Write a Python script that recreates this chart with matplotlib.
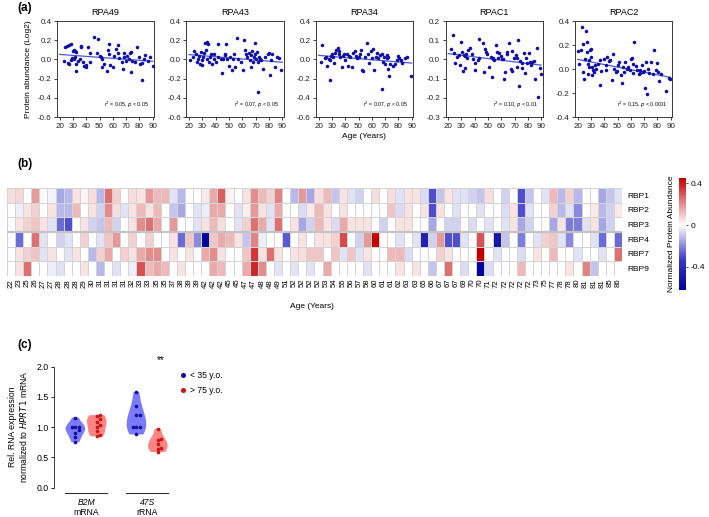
import numpy as np
import matplotlib
matplotlib.use("Agg")
import matplotlib.pyplot as plt
from matplotlib.colors import LinearSegmentedColormap, Normalize
from matplotlib.lines import Line2D
import matplotlib.transforms as mtransforms

plt.rcParams['font.family'] = ['Liberation Sans', 'DejaVu Sans']

# ---------------- Panel (a) data ----------------
panel_names = ["RPA49", "RPA43", "RPA34", "RPAC1", "RPAC2"]
panel_ylims = [(-0.6, 0.4), (-0.6, 0.4), (-0.6, 0.4), (-0.3, 0.2), (-0.4, 0.4)]
panel_ysteps = [0.2, 0.2, 0.2, 0.1, 0.2]
panel_stats = ["0.05, $\\it{p}$ < 0.05", "0.07, $\\it{p}$ < 0.05", "0.07, $\\it{p}$ < 0.05",
               "0.10, $\\it{p}$ < 0.01", "0.15, $\\it{p}$ < 0.0001"]
# regression line values at age 20 and age 90
fit_at20 = [0.052, 0.05, 0.042, 0.03, 0.08]
fit_at90 = [-0.02, -0.03, -0.038, -0.03, -0.07]

rpa49_age = [23.7, 25.7, 27.4, 28.7, 30.6, 29.9, 31.8, 32.3, 36, 36.3, 23.2, 26.4, 27, 28.7, 29.5, 30.5, 31.2,
             32, 32.5, 33.7, 35, 37.5, 39.5, 40, 42.8, 42.8, 46, 49, 48, 50, 51, 51.7, 52.2, 53.5, 55.3, 56.8,
             56.6, 57.3, 57.8, 59.8, 61, 62.4, 63.6, 63.6, 64.8, 66.8, 67.3, 68.3, 68.5, 69.7, 71, 72.2, 72.7,
             73.5, 73.5, 74.8, 76.7, 78.5, 79.7, 80.4, 81.7, 82.1, 83.4, 84.6, 86.6, 88.3, 90, 41.5, 38.2]
rpa49_val = [0.13, 0.14, 0.15, 0.16, 0.10, 0.09, 0.09, 0.08, 0.13, 0.14, -0.02, -0.04, -0.05, -0.01, 0.01, 0.0,
             0.02, -0.05, -0.12, -0.02, 0.0, -0.03, -0.08, -0.06, 0.07, -0.03, 0.23, 0.21, 0.07, 0.04, 0.02, 0.0,
             -0.08, -0.05, -0.12, 0.16, 0.10, 0.06, -0.06, -0.08, 0.04, 0.11, 0.15, 0.07, 0.01, -0.03, -0.10,
             0.07, 0.02, -0.02, 0.04, 0.0, 0.07, 0.08, -0.13, -0.02, -0.03, 0.13, 0.03, -0.05, -0.21, -0.04, 0.0,
             0.05, -0.02, 0.02, -0.07, 0.13, -0.07]

rpa43_age = [21, 23, 24, 25.3, 26, 26.6, 27.3, 28, 28.6, 29.3, 29.8, 30.4, 31.2, 31.7, 32.5, 33.2, 33.8, 34.3,
             35, 35.8, 36.3, 37.1, 38.4, 38.9, 40.2, 41.5, 42, 43.6, 44.7, 45.4, 46.7, 47.2, 48, 48.8, 49.8,
             50.6, 51.9, 53.2, 54.1, 54.6, 56.2, 56.7, 58.7, 60.5, 61.3, 61.8, 63.1, 63.8, 64.8, 65.6, 66.4,
             66.9, 67.4, 67.9, 68.9, 69.4, 69.9, 70.2, 70.7, 71.5, 72, 72.5, 73.3, 74, 75.8, 77.1, 79.1, 80.2,
             80.9, 81.7, 82.7, 84.7, 86, 87.3, 89.3]
rpa43_val = [-0.01, 0.03, 0.09, 0.06, -0.03, 0.007, 0.04, -0.045, 0.076, -0.01, -0.063, 0.03, 0.066, 0.17, 0.1,
             0.18, 0.007, 0.163, -0.028, 0.03, 0.06, -0.052, 0.0, 0.06, -0.028, 0.163, 0.024, 0.0, -0.14, 0.0,
             0.06, 0.042, 0.163, 0.007, -0.073, 0.03, -0.115, 0.0, 0.06, -0.08, 0.225, 0.007, -0.028, -0.108,
             0.205, 0.1, 0.06, 0.03, 0.066, -0.003, -0.08, 0.042, 0.087, -0.028, 0.024, 0.17, 0.06, 0.0, 0.076,
             -0.028, -0.34, 0.03, 0.007, -0.01, -0.097, 0.024, 0.052, 0.066, -0.167, -0.01, 0.06, -0.08, 0.024,
             0.017, -0.115]

rpa34_age = [22.7, 21.5, 25, 25.7, 26.2, 27.5, 28.2, 28.7, 29.2, 30, 30.7, 31.2, 32.5, 33.2, 34.5, 35, 35.5,
             36.2, 37.5, 38.2, 39.2, 40, 41.2, 42, 42.5, 43.7, 45, 46.2, 47.5, 48, 48.7, 50, 51.2, 52, 52.5, 53.7,
             55, 56.2, 57, 58.2, 59.5, 60, 61.2, 62, 63, 64.2, 65, 66.2, 67.5, 68, 68.7, 69.5, 70, 71.2, 71.7,
             72.5, 72.5, 73, 73.7, 76.2, 77.5, 78.7, 80, 80.7, 82, 82.5, 85, 86.2, 89.5]
rpa34_val = [0.15, -0.03, 0.01, 0.03, -0.07, 0.0, -0.01, -0.21, 0.04, 0.06, 0.03, -0.04, 0.07, 0.10, 0.12, 0.06,
             0.09, 0.02, -0.08, 0.04, 0.06, -0.01, 0.06, -0.07, 0.04, 0.02, -0.08, 0.07, 0.09, 0.04, 0.01, 0.03,
             0.06, 0.10, -0.11, -0.12, 0.02, 0.17, 0.06, -0.04, 0.09, 0.01, 0.11, -0.11, 0.03, 0.07, 0.01, 0.05,
             0.06, -0.31, -0.03, 0.02, -0.05, 0.01, 0.05, -0.10, 0.02, -0.17, -0.05, -0.07, -0.05, -0.01, 0.04,
             0.01, -0.01, -0.04, 0.01, 0.02, -0.17]

rpac1_age = [21.8, 23.8, 24.7, 25.5, 26.7, 27.9, 29.2, 29.9, 30.4, 31.1, 31.6, 32.9, 34.1, 35.3, 32.6, 33.8,
             36.3, 38.3, 38.8, 40, 40.5, 43.2, 43.2, 42.5, 46.2, 46.9, 48.1, 48.6, 49.1, 51.1, 52.3, 53, 53.5,
             54, 54.8, 56, 56.7, 57.2, 58.5, 59.7, 60.4, 61.4, 62.2, 62.9, 64.1, 64.6, 65.9, 67.1, 67.8, 68.3,
             69.6, 70.8, 71.5, 72, 72.8, 73.3, 73.7, 75.2, 75.7, 76.9, 77.7, 78.7, 79.4, 80.6, 81.9, 82.6, 83.1,
             84.3, 85.6, 86.8, 87.5, 89.3, 90]
rpac1_val = [0.053, 0.127, 0.032, -0.017, 0.015, 0.023, -0.029, 0.092, 0.04, -0.06, 0.023, -0.046, 0.006, 0.05,
             0.02, 0.03, 0.057, 0.028, 0.0, -0.02, -0.055, 0.005, 0.104, -0.003, 0.083, -0.068, 0.052, 0.04,
             0.028, -0.038, 0.01, -0.094, 0.0, 0.005, -0.003, 0.075, 0.04, 0.005, 0.031, 0.017, 0.0, 0.0,
             -0.104, -0.064, 0.04, 0.028, 0.083, -0.052, -0.059, 0.045, 0.005, 0.023, 0.005, -0.038, 0.1, -0.139,
             -0.007, -0.017, -0.047, 0.035, -0.069, 0.005, -0.021, 0.031, -0.012, -0.03, -0.012, -0.009, -0.104,
             0.057, -0.194, -0.047, -0.076]

rpac2_age = [20, 21.3, 22.5, 23.3, 24.3, 24.3, 25.1, 25.9, 26.4, 26.9, 27.1, 27.6, 28.1, 28.4, 28.9, 29.4, 29.7,
             30.2, 30.7, 31, 31.5, 32.3, 32.7, 34, 35.3, 36.5, 37, 37.8, 39.6, 41.2, 41.7, 42.2, 43.7, 44.2,
             46.2, 46.8, 47.5, 48.8, 49.3, 50.5, 51.3, 52.3, 53.1, 53.8, 54.9, 55.6, 56.9, 58.2, 59.4, 60.2,
             60.7, 61.5, 62, 62.5, 64, 65, 65.8, 66.6, 67.1, 68.3, 69.1, 70.1, 70.9, 71.7, 72.2, 72.7, 73.4,
             75.2, 76.7, 77.8, 79.3, 79.8, 80.4, 81.2, 82.4, 86.3, 88.7, 89.5]
rpac2_val = [0.15, 0.044, 0.16, 0.35, -0.025, 0.21, -0.083, 0.086, 0.32, 0.225, 0.14, 0.044, -0.044, 0.078,
             0.017, 0.155, 0.17, 0.1, 0.017, -0.053, -0.011, -0.025, 0.03, 0.003, 0.044, 0.072, -0.136, -0.017,
             0.086, 0.03, -0.011, 0.1, 0.067, 0.078, -0.089, 0.122, 0.003, -0.025, -0.017, 0.03, 0.058, -0.053,
             -0.117, 0.017, -0.025, 0.058, 0.003, 0.017, -0.011, 0.086, 0.094, -0.033, 0.039, 0.225, 0.022,
             -0.006, -0.044, -0.033, -0.011, 0.03, -0.025, -0.019, -0.156, 0.058, -0.211, 0.003, -0.033, 0.058,
             -0.039, 0.155, -0.011, 0.05, -0.025, -0.103, -0.039, -0.183, -0.072, -0.083]

panel_ages = [rpa49_age, rpa43_age, rpa34_age, rpac1_age, rpac2_age]
panel_vals = [rpa49_val, rpa43_val, rpa34_val, rpac1_val, rpac2_val]

# ---------------- Panel (b) data ----------------
age_labels = [22, 23, 25, 26, 27, 27, 28, 28, 28, 29, 30, 31, 31, 31, 31, 32, 33, 33, 35, 35, 37, 38, 39, 39,
              42, 42, 42, 45, 45, 47, 47, 48, 48, 49, 51, 52, 52, 52, 52, 53, 54, 55, 56, 57, 58, 60, 61, 61,
              62, 63, 63, 65, 66, 67, 67, 67, 69, 70, 70, 71, 72, 72, 72, 72, 72, 73, 75, 77, 78, 78, 80, 81,
              81, 81, 85, 86]
rbp_names = ["RBP1", "RBP2", "RBP3", "RBP4", "RBP7", "RBP9"]
rbp1 = [0.06, 0.07, 0.0, 0.18, 0.01, -0.02, -0.15, -0.12, 0.05, 0.02, 0.06, -0.12, 0.25, 0.08, 0.0, 0.06, 0.05,
        0.18, 0.12, 0.12, -0.05, -0.12, 0.0, 0.0, 0.04, 0.15, 0.28, 0.02, 0.0, 0.05, 0.2, 0.12, 0.08, 0.22, 0.0,
        -0.12, 0.18, -0.15, 0.06, 0.12, -0.1, 0.05,
        -0.05, -0.08, 0.0, 0.06, 0.0, 0.06, -0.05, 0.05, 0.05, -0.06, -0.3, -0.1, 0.05, -0.05, -0.05, -0.08,
        -0.1, 0.06, 0.0, -0.08, 0.0, -0.3, -0.1, 0.0, -0.05, 0.12, -0.12, 0.08, -0.12, 0.0, 0.0, -0.15, -0.1,
        -0.05]
rbp2 = [0.0, -0.03, 0.05, 0.08, 0.0, 0.05, -0.12, -0.12, 0.12, 0.0, 0.05, -0.08, 0.2, 0.06, -0.05, 0.05, 0.12,
        0.05, 0.12, 0.0, -0.1, -0.15, 0.0, -0.05, -0.03, 0.15, 0.15, 0.0, -0.05, 0.03, 0.18, 0.05, -0.05, 0.15,
        0.0, 0.0, -0.06, 0.04, 0.12, 0.05, 0.0, 0.05,
        0.0, 0.0, 0.0, 0.0, 0.0, 0.1, -0.06, 0.05, 0.0, 0.05, -0.3, 0.05, 0.0, -0.05, 0.0, 0.0, -0.05, 0.0, 0.0,
        -0.06, 0.05, -0.3, -0.05, 0.0, 0.0, 0.08, -0.12, -0.05, -0.2, 0.0, 0.04, -0.12, -0.08, 0.04]
rbp3 = [0.0, 0.05, 0.08, 0.1, 0.05, -0.05, -0.25, -0.3, 0.0, 0.05, -0.08, -0.1, 0.12, -0.08, 0.0, 0.05, 0.2,
        0.25, 0.15, 0.0, 0.18, 0.0, 0.0, -0.05, 0.05, 0.12, 0.06, 0.0, -0.05, 0.08, 0.25, 0.15, -0.05, 0.25,
        0.0, 0.05, -0.15, -0.08, 0.12, 0.05, -0.06, 0.15,
        0.05, 0.05, 0.05, 0.0, -0.08, 0.0, 0.05, 0.05, 0.0, 0.0, -0.15, 0.0, -0.08, -0.08, 0.0, -0.06, 0.0,
        -0.05, 0.0, -0.05, 0.05, -0.15, -0.08, 0.0, 0.0, -0.15, 0.05, -0.22, -0.22, -0.05, 0.05, -0.15, -0.08,
        0.0]
rbp4 = [0.0, -0.25, 0.0, 0.25, -0.05, 0.0, -0.08, -0.05, 0.0, 0.08, 0.0, -0.05, 0.1, 0.18, 0.0, 0.08, 0.0,
        0.08, 0.0, 0.0, 0.05, -0.25, 0.1, -0.2, -0.6, 0.1, 0.15, 0.12, 0.05, -0.1, 0.22, -0.03, 0.0, 0.0,
        -0.28, 0.0, 0.05, 0.0, 0.05, 0.05, 0.08, 0.32,
        0.0, -0.08, 0.18, 0.45, 0.0, 0.0, -0.05, 0.0, -0.05, -0.45, -0.08, 0.18, -0.3, -0.3, -0.05, 0.0, 0.3,
        0.0, -0.5, -0.1, 0.0, -0.22, 0.0, -0.05, 0.08, 0.1, -0.05, -0.2, 0.0, 0.0, -0.05, -0.25, 0.0, -0.25]
rbp7 = [0.0, 0.05, 0.08, 0.1, -0.05, 0.05, 0.0, -0.05, 0.05, 0.0, -0.12, 0.08, 0.15, 0.0, 0.08, 0.05, 0.15,
        0.2, 0.2, 0.0, 0.05, 0.0, 0.05, 0.0, 0.15, 0.2, 0.05, 0.0, 0.0, 0.1, 0.35, 0.05, 0.25, 0.05, 0.0, 0.05,
        0.06, 0.1, 0.1, 0.0, 0.1, -0.05,
        0.1, -0.05, 0.05, 0.0, 0.0, 0.12, 0.12, -0.06, 0.0, 0.0, 0.0, 0.08, 0.05, 0.0, 0.0, 0.0, 0.48, 0.0,
        -0.05, 0.0, 0.0, -0.06, 0.0, 0.05, 0.0, 0.12, 0.0, 0.0, -0.05, 0.0, 0.0, -0.05, 0.0, 0.25]
rbp9 = [0.0, 0.05, 0.25, 0.0, 0.0, -0.03, -0.05, 0.0, 0.0, 0.05, 0.0, -0.12, 0.0, -0.05, 0.0, -0.03, 0.3, 0.12,
        0.15, 0.12, 0.0, 0.05, 0.0, 0.0, 0.0, 0.15, 0.12, 0.0, 0.0, 0.15, 0.38, 0.2, 0.0, -0.05, 0.0, -0.05,
        0.0, -0.05, 0.0, 0.15, 0.0, 0.0,
        0.0, 0.0, -0.05, 0.0, 0.0, 0.0, 0.05, 0.0, 0.05, 0.0, -0.1, 0.0, 0.25, 0.0, -0.06, 0.0, -0.6, -0.06,
        0.0, 0.0, 0.0, 0.12, 0.0, 0.0, 0.0, 0.0, 0.0, 0.05, 0.0, 0.22, -0.1, 0.0, 0.0, 0.0]
heat_rows = [rbp1, rbp2, rbp3, rbp4, rbp7, rbp9]
cbar_ticks = [0.4, 0, -0.4]
cbar_min, cbar_max = -0.62, 0.45

# ---------------- Panel (c) data ----------------
groups = ["B2M", "47S"]
group_sub = ["mRNA", "rRNA"]
young_b2m = [1.16, 1.01, 1.01, 1.01, 0.95, 0.91, 0.83, 0.75]
old_b2m = [1.20, 1.18, 1.13, 1.09, 1.04, 1.00, 0.93, 0.87, 0.85]
young_47s = [1.58, 1.35, 1.20, 1.20, 1.01, 1.00, 1.00, 0.88]
old_47s = [0.97, 0.80, 0.79, 0.72, 0.65, 0.64, 0.59]
legend_labels = ["< 35 y.o.", "> 75 y.o."]

# ---------------- Figure ----------------
W, H = 709, 517
fig = plt.figure(figsize=(W / 100, H / 100), dpi=100)

def fx(p):
    return p / W

def fy(p):
    return 1 - p / H

spine_c = '#3a3a3a'
dot_blue = '#1010a8'
line_blue = '#4a5ad8'

for i in range(5):
    ax = fig.add_axes([fx(57 + 129.5 * i), fy(117), 97 / W, 96 / H])
    ax.scatter(panel_ages[i], panel_vals[i], s=6.5, color=dot_blue, linewidths=0, zorder=3)
    ax.plot([20, 90], [fit_at20[i], fit_at90[i]], color=line_blue, lw=0.9, zorder=2)
    lo, hi = panel_ylims[i]
    ax.set_ylim(lo, hi)
    ax.set_xlim(18, 91)
    ax.set_xticks(range(20, 91, 10))
    yt = np.round(np.arange(lo, hi + 1e-9, panel_ysteps[i]), 2)
    ax.set_yticks(yt)
    ax.set_yticklabels([("%.1f" % v).replace("-0.0", "0.0") for v in yt])
    ax.tick_params(labelsize=5.8, length=2.5, width=0.6, pad=1.5, colors='#222222')
    for s in ax.spines.values():
        s.set_linewidth(0.7)
        s.set_color(spine_c)
    ax.set_title(panel_names[i], fontsize=6.5, pad=4)
    ax.text(0.95, 0.07, "r$^2$ = " + panel_stats[i], transform=ax.transAxes, ha='right', va='bottom',
            fontsize=3.8)

fig.text(fx(17), fy(2), "(a)", fontsize=8.5, fontweight='bold', va='top')
fig.text(fx(29), fy(69), "Protein abundance (Log2)", rotation=90, fontsize=6.0, ha='center', va='center')
fig.text(fx(364), fy(137), "Age (Years)", fontsize=6.0, ha='center', va='center')

# ---- (b) heatmap ----
fig.text(fx(17), fy(158), "(b)", fontsize=8.5, fontweight='bold', va='top')
axh = fig.add_axes([fx(7), fy(276), 615 / W, 88 / H])
data = np.array(heat_rows)
nrow, ncol = data.shape
wpos = (0 - cbar_min) / (cbar_max - cbar_min)
cmap = LinearSegmentedColormap.from_list('bwr2', [(0.0, '#00009c'), (wpos * 0.45, '#3636c8'),
                                                  (wpos, '#ffffff'), (1.0, '#c40000')])
norm = Normalize(vmin=cbar_min, vmax=cbar_max)
mesh = axh.pcolormesh(np.arange(ncol + 1), np.arange(nrow + 1), data, cmap=cmap, norm=norm,
                      edgecolors='#d4d4d4', linewidth=0.5)
axh.axhline(3, color='#c4c4c4', lw=1.6)
axh.set_xlim(0, ncol)
axh.set_ylim(nrow, 0)
axh.set_xticks(np.arange(ncol) + 0.5)
axh.set_xticklabels([str(a) for a in age_labels], rotation=90, fontsize=5.6)
axh.set_yticks(np.arange(nrow) + 0.5)
axh.set_yticklabels(rbp_names, fontsize=6.0)
axh.yaxis.tick_right()
axh.tick_params(length=0, pad=2)
axh.tick_params(axis='y', pad=4)
for s in axh.spines.values():
    s.set_visible(False)
fig.text(fx(312), fy(306), "Age (Years)", fontsize=6.0, ha='center', va='center')

cax = fig.add_axes([fx(679), fy(290), 7 / W, 112 / H])
cb = fig.colorbar(mesh, cax=cax)
cb.set_ticks(cbar_ticks)
cb.set_ticklabels(["0.4", "0", "-0.4"])
cb.ax.tick_params(labelsize=6.0, length=1.5, width=0.5, pad=2)
cb.outline.set_visible(False)
cb.set_label("Normalized Protein Abundance", fontsize=6.0, labelpad=3)
cb.ax.yaxis.set_label_position('left')

# ---- (c) violins ----
fig.text(fx(17), fy(339), "(c)", fontsize=8.5, fontweight='bold', va='top')
axc = fig.add_axes([fx(54), fy(487.7), 120 / W, 121 / H])
centers = [1, 2]
off = 0.175
sets = [young_b2m, old_b2m, young_47s, old_47s]
pos = [centers[0] - off, centers[0] + off, centers[1] - off, centers[1] + off]
fills = ['#7b7bfa', '#ff8585', '#7b7bfa', '#ff8585']
dots = ['#12129e', '#cc1414', '#12129e', '#cc1414']
vp = axc.violinplot(sets, positions=pos, widths=0.32, showextrema=False)
for body, fc in zip(vp['bodies'], fills):
    body.set_facecolor(fc)
    body.set_edgecolor('none')
    body.set_alpha(1)


def swarm_offsets(vals, step=0.055, tol=0.05):
    vals = np.asarray(vals)
    order = np.argsort(vals)
    offs = np.zeros(len(vals))
    placed = []
    for idx in order:
        v = vals[idx]
        near = [o for (pv, o) in placed if abs(pv - v) < tol]
        k = 0
        cand = 0.0
        while any(abs(cand - o) < step * 0.9 for o in near):
            k += 1
            cand = step * ((k + 1) // 2) * (1 if k % 2 else -1)
        offs[idx] = cand
        placed.append((v, cand))
    return offs


for vals, p, dc in zip(sets, pos, dots):
    axc.scatter(p + swarm_offsets(vals), vals, s=7, color=dc, linewidths=0, zorder=3)

axc.set_ylim(0, 2.0)
axc.set_xlim(0.475, 2.44)
axc.set_yticks([0.0, 0.5, 1.0, 1.5, 2.0])
axc.set_yticklabels(["0.0", "0.5", "1.0", "1.5", "2.0"])
axc.set_xticks([])
for k in ['top', 'right', 'bottom']:
    axc.spines[k].set_visible(False)
axc.spines['left'].set_linewidth(0.7)
axc.spines['left'].set_color(spine_c)
axc.tick_params(labelsize=6.3, length=2.5, width=0.6, pad=1.5)
axc.set_ylabel("Rel. RNA expression\nnormalized to $\\it{HPRT1}$ mRNA", fontsize=6.2, labelpad=5,
               linespacing=1.1)
trans = mtransforms.blended_transform_factory(axc.transData, axc.transAxes)
for c, g, sub in zip(centers, groups, group_sub):
    axc.plot([c - 0.345, c + 0.345], [-0.045, -0.045], transform=trans, color='#333333', lw=0.8,
             clip_on=False)
    axc.text(c, -0.085, g, transform=trans, ha='center', va='top', fontsize=6.2, style='italic')
    axc.text(c, -0.165, sub, transform=trans, ha='center', va='top', fontsize=6.2)
axc.text(centers[1] + 0.23, 2.02, "**", ha='center', va='bottom', fontsize=7, clip_on=False)

handles = [Line2D([], [], marker='o', ls='none', color=dots[0], markersize=2.6),
           Line2D([], [], marker='o', ls='none', color=dots[1], markersize=2.6)]
fig.legend(handles, legend_labels, loc='upper left', bbox_to_anchor=(fx(174), fy(368)), frameon=False,
           fontsize=6.2, handletextpad=0.3, labelspacing=0.7, borderaxespad=0, handlelength=1.2)

fig.savefig("out.png", dpi=100)
